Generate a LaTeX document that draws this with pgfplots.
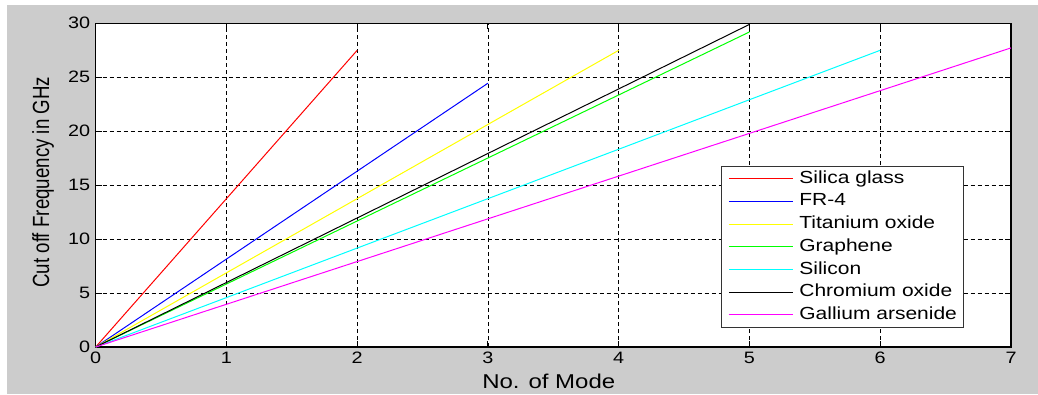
\documentclass[border=0pt]{standalone}
\usepackage{fontspec}
\setmainfont{Liberation Sans}
\newfontfamily\sfont[FakeStretch=1.2]{Liberation Sans}
\usepackage{pgfplots}
\pgfplotsset{compat=1.18}
\definecolor{figgray}{RGB}{204,204,204}
\definecolor{mred}{RGB}{255,0,0}
\definecolor{mblue}{RGB}{0,0,255}
\definecolor{myellow}{RGB}{255,255,0}
\definecolor{mgreen}{RGB}{0,255,0}
\definecolor{mcyan}{RGB}{0,255,255}
\definecolor{mblack}{RGB}{0,0,0}
\definecolor{mmagenta}{RGB}{255,0,255}
\begin{document}
\begin{tikzpicture}[x=1pt,y=1pt]
\fill[white] (0,0) rectangle (1038,394);
\fill[figgray] (7,0) rectangle (1038,389);
\begin{axis}[
  at={(95.7pt,47pt)}, anchor=south west, scale only axis,
  width=915.3pt, height=323.7pt,
  xmin=0, xmax=7, ymin=0, ymax=30,
  xtick={0,1,...,7}, ytick={0,5,...,30},
  tick align=inside, tick pos=both, major tick length=6pt,
  xticklabel pos=lower, yticklabel pos=left,
  grid=major,
  grid style={black, line width=0.8pt, dash pattern=on 4pt off 3pt},
  major tick style={black, line width=1pt},
  axis line style={black, line width=1.2pt},
  axis background/.style={fill=white},
  /pgf/number format/assume math mode=true,
  tick label style={font=\fontsize{16.5}{18}\sfont, text=black},
  xticklabel style={yshift=-1.5pt},
  yticklabel style={xshift=-2pt},
  xlabel={No. of Mode},
  ylabel={\scalebox{1}[1.25]{Cut off Frequency in GHz}},
  every axis x label/.style={at={(axis description cs:0.495,0)}, anchor=north, inner sep=0pt, yshift=-27pt, font=\fontsize{20}{22}\sfont},
  every axis y label/.style={at={(axis description cs:-0.0576,0.509)}, anchor=center, rotate=90, inner sep=0pt, font=\fontsize{18.7}{20}\selectfont},
  legend style={at={(0.683,0.56)}, anchor=north west, draw=black!80, line width=1pt, fill=white,
    font=\fontsize{17.5}{20}\sfont, inner xsep=7pt, inner ysep=4pt,
    nodes={inner sep=0pt, text height=13pt, text depth=4pt},
    row sep=5.7pt, column sep=6pt},
  legend cell align=left,
  legend image code/.code={\draw[line width=1pt, #1] (0pt,0pt) -- (64pt,0pt);},
]
\addplot[color=mred, draw=mred, line width=1pt] coordinates {(0,0)(1,13.75)(2,27.5)};
\addlegendentry{Silica glass}
\addplot[color=mblue, draw=mblue, line width=1pt] coordinates {(0,0)(1,8.15)(2,16.3)(3,24.45)};
\addlegendentry{FR-4}
\addplot[color=myellow, draw=myellow, line width=1pt] coordinates {(0,0)(1,6.875)(2,13.75)(3,20.63)(4,27.5)};
\addlegendentry{Titanium oxide}
\addplot[color=mgreen, draw=mgreen, line width=1pt] coordinates {(0,0)(1,5.84)(2,11.68)(3,17.52)(4,23.36)(5,29.2)};
\addlegendentry{Graphene}
\addplot[color=mcyan, draw=mcyan, line width=1pt] coordinates {(0,0)(1,4.58)(2,9.17)(3,13.75)(4,18.33)(5,22.92)(6,27.5)};
\addlegendentry{Silicon}
\addplot[color=mblack, draw=mblack, line width=1pt] coordinates {(0,0)(1,5.98)(2,11.96)(3,17.94)(4,23.92)(5,29.9)};
\addlegendentry{Chromium oxide}
\addplot[color=mmagenta, draw=mmagenta, line width=1pt] coordinates {(0,0)(1,3.96)(2,7.92)(3,11.88)(4,15.84)(5,19.8)(6,23.76)(7,27.72)};
\addlegendentry{Gallium arsenide}
\end{axis}
\end{tikzpicture}
\end{document}
